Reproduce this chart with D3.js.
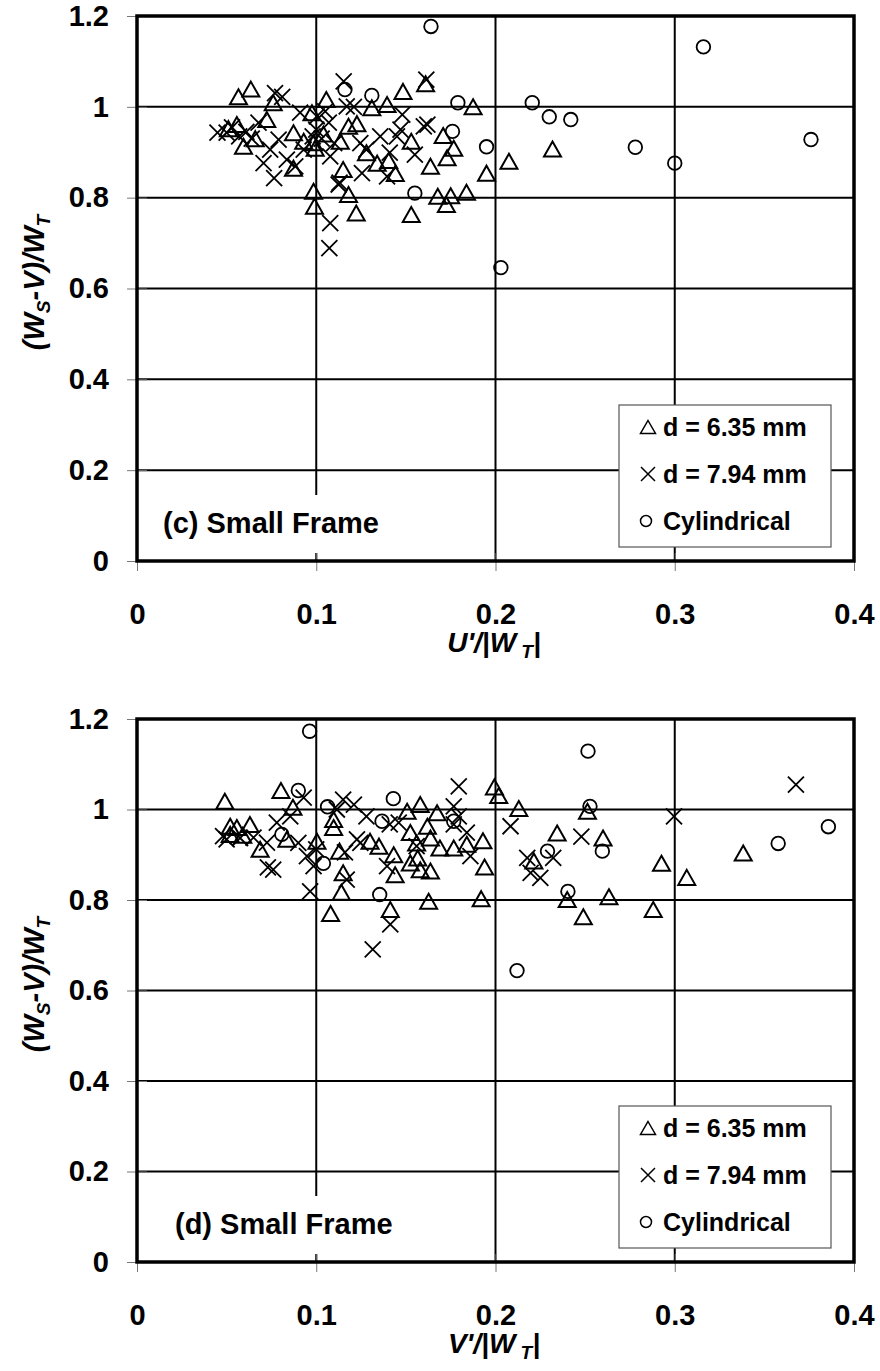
<!DOCTYPE html>
<html>
<head>
<meta charset="utf-8">
<script src="https://cdn.jsdelivr.net/npm/d3@7"></script>
<style>
  body { margin: 0; background: #fff; }
  text { font-family: "Liberation Sans", Arial, sans-serif; font-weight: bold; fill: #000; }
</style>
</head>
<body>
<div id="chart"></div>
<script>
// axis ticks and legend entries
var xTicks = [0, 0.1, 0.2, 0.3, 0.4];
var yTicks = [0, 0.2, 0.4, 0.6, 0.8, 1, 1.2];
var legendLabels = ["d = 6.35 mm", "d = 7.94 mm", "Cylindrical"];

// panel (c): x = U'/|WT|, y = (Ws-V)/WT
var c_tri = [[0.0635,1.039],[0.0566,1.022],[0.076,1.009],[0.1056,1.016],[0.0557,0.961],[0.0594,0.913],[0.0724,0.972],
  [0.0873,0.943],[0.0873,0.865],[0.0985,0.814],[0.099,0.781],[0.1134,0.924],[0.115,0.862],[0.0985,0.921],[0.118,0.807],
  [0.118,0.957],[0.093,0.924],[0.0976,0.987],[0.0994,0.909],[0.051,0.952],[0.066,0.93],[0.104,0.94],
  [0.161,1.051],[0.1484,1.034],[0.1395,1.005],[0.131,0.998],[0.1875,1.0],[0.1227,0.963],[0.1708,0.937],[0.1767,0.909],
  [0.173,0.888],[0.153,0.924],[0.128,0.899],[0.134,0.876],[0.1404,0.882],[0.1637,0.869],[0.1441,0.853],[0.195,0.854],
  [0.2075,0.88],[0.2318,0.907],[0.1223,0.766],[0.153,0.763],[0.1678,0.803],[0.175,0.804],[0.1726,0.785],[0.1838,0.812]];
var c_x = [[0.0449,0.943],[0.05,0.943],[0.053,0.955],[0.057,0.935],[0.061,0.945],[0.064,0.93],[0.0678,0.965],[0.0743,0.906],
  [0.0706,0.876],[0.0765,0.843],[0.0836,0.884],[0.0883,0.869],[0.079,0.928],[0.077,1.03],[0.081,1.022],[0.091,0.987],
  [0.093,0.906],[0.1003,0.979],[0.1,0.95],[0.103,0.93],[0.105,0.99],[0.107,0.965],[0.098,0.935],[0.11,0.92],[0.1078,0.891],
  [0.1125,0.829],[0.1078,0.744],[0.1073,0.689],[0.1153,1.056],[0.117,1.001],[0.121,1.0],[0.1246,0.92],[0.128,0.906],
  [0.1255,0.854],[0.113,0.833],[0.1357,0.935],[0.141,0.899],[0.1395,0.847],[0.145,0.935],[0.147,0.95],[0.148,0.983],
  [0.155,0.895],[0.1614,1.06],[0.162,0.961],[0.16,0.957]];
var c_cyl = [[0.164,1.177],[0.116,1.038],[0.131,1.025],[0.179,1.009],[0.2205,1.009],[0.23,0.978],[0.242,0.972],[0.176,0.946],
  [0.195,0.912],[0.155,0.81],[0.203,0.646],[0.316,1.132],[0.278,0.911],[0.3,0.876],[0.376,0.928]];

// panel (d): x = V'/|WT|
var d_tri = [[0.049,1.018],[0.0803,1.042],[0.087,1.005],[0.052,0.963],[0.0557,0.96],[0.063,0.967],[0.0687,0.912],[0.0836,0.934],
  [0.1004,0.93],[0.1097,0.978],[0.1097,0.96],[0.113,0.908],[0.115,0.86],[0.114,0.817],[0.108,0.77],[0.052,0.945],[0.059,0.943],
  [0.1994,1.05],[0.2018,1.031],[0.213,1.002],[0.158,1.011],[0.1507,0.996],[0.1674,0.993],[0.162,0.963],[0.1525,0.949],
  [0.1637,0.937],[0.156,0.926],[0.169,0.915],[0.1767,0.915],[0.184,0.923],[0.193,0.931],[0.1939,0.873],[0.13,0.93],
  [0.135,0.919],[0.1432,0.9],[0.1525,0.882],[0.158,0.867],[0.1637,0.864],[0.144,0.856],[0.1566,0.893],[0.1413,0.779],
  [0.1627,0.797],[0.192,0.803],[0.2214,0.886],[0.2344,0.948],[0.2513,0.996],[0.26,0.937],[0.2926,0.881],[0.3067,0.85],
  [0.24,0.801],[0.2633,0.807],[0.249,0.763],[0.288,0.779],[0.3382,0.904]];
var d_x = [[0.048,0.941],[0.05,0.934],[0.0575,0.937],[0.065,0.938],[0.0725,0.927],[0.078,0.971],[0.073,0.872],[0.076,0.867],
  [0.0855,0.985],[0.093,1.026],[0.09,0.926],[0.0948,0.897],[0.0985,0.875],[0.0966,0.819],[0.1,0.912],[0.1115,1.0],[0.115,1.022],
  [0.121,1.011],[0.128,0.985],[0.116,0.905],[0.117,0.845],[0.1227,0.934],[0.1246,0.926],[0.1395,0.875],[0.141,0.967],
  [0.146,0.971],[0.156,0.919],[0.1413,0.746],[0.1315,0.691],[0.1767,1.007],[0.1767,0.967],[0.1795,1.051],[0.1795,0.985],
  [0.184,0.949],[0.186,0.897],[0.2084,0.963],[0.2177,0.893],[0.2196,0.86],[0.225,0.849],[0.2322,0.893],[0.2479,0.94],
  [0.2996,0.985],[0.3676,1.055]];
var d_cyl = [[0.0963,1.173],[0.09,1.042],[0.1063,1.006],[0.0808,0.945],[0.104,0.881],[0.143,1.024],[0.1367,0.974],[0.1767,0.974],
  [0.1354,0.812],[0.229,0.908],[0.2516,1.129],[0.2527,1.007],[0.2596,0.908],[0.2404,0.819],[0.3577,0.925],[0.3857,0.962],
  [0.212,0.644]];

var svg = d3.select("#chart").append("svg")
    .attr("width", 880)
    .attr("height", 1371);

var x = d3.scaleLinear().domain([0, 0.4]).range([137, 854]);

// marker shapes
function triPath(w, h) { return "M0," + (-h/2) + "L" + (w/2) + "," + (h/2) + "L" + (-w/2) + "," + (h/2) + "Z"; }
function crossPath(s) { return "M" + (-s) + "," + (-s) + "L" + s + "," + s + "M" + (-s) + "," + s + "L" + s + "," + (-s); }

function drawPanel(top, bottom, series, label, labelX, xName) {
  var y = d3.scaleLinear().domain([0, 1.2]).range([bottom, top]);
  var g = svg.append("g");

  // grid
  g.selectAll(".hg").data(yTicks.slice(1, -1)).enter().append("line")
    .attr("x1", x(0)).attr("x2", x(0.4))
    .attr("y1", function(d) { return y(d); }).attr("y2", function(d) { return y(d); })
    .attr("stroke", "#000").attr("stroke-width", 2);
  g.selectAll(".vg").data(xTicks.slice(1, -1)).enter().append("line")
    .attr("y1", y(0)).attr("y2", y(1.2))
    .attr("x1", function(d) { return x(d); }).attr("x2", function(d) { return x(d); })
    .attr("stroke", "#000").attr("stroke-width", 2);

  // points
  g.selectAll(".tri").data(series[0]).enter().append("path")
    .attr("transform", function(d) { return "translate(" + x(d[0]) + "," + y(d[1]) + ")"; })
    .attr("d", triPath(17, 15))
    .attr("fill", "none").attr("stroke", "#000").attr("stroke-width", 2);
  g.selectAll(".crs").data(series[1]).enter().append("path")
    .attr("transform", function(d) { return "translate(" + x(d[0]) + "," + y(d[1]) + ")"; })
    .attr("d", crossPath(8))
    .attr("fill", "none").attr("stroke", "#000").attr("stroke-width", 1.8);
  g.selectAll(".cyl").data(series[2]).enter().append("circle")
    .attr("cx", function(d) { return x(d[0]); })
    .attr("cy", function(d) { return y(d[1]); })
    .attr("r", 6.8)
    .attr("fill", "none").attr("stroke", "#000").attr("stroke-width", 1.8);

  // panel label with white box
  g.append("rect").attr("x", labelX - 8).attr("y", bottom - 66).attr("width", 252).attr("height", 58).attr("fill", "#fff");
  g.append("text").attr("x", labelX).attr("y", bottom - 28).style("font-size", "29px").text(label);

  // legend
  var lg = g.append("g");
  var ly0 = bottom - 134;
  lg.append("rect").attr("x", 619).attr("y", bottom - 156).attr("width", 212).attr("height", 142)
    .attr("fill", "#fff").attr("stroke", "#555").attr("stroke-width", 1.2);
  legendLabels.forEach(function(t, i) {
    var ly = ly0 + i * 47;
    if (i === 0) lg.append("path").attr("transform", "translate(648," + ly + ")").attr("d", triPath(15, 13))
      .attr("fill", "none").attr("stroke", "#000").attr("stroke-width", 1.5);
    if (i === 1) lg.append("path").attr("transform", "translate(648," + ly + ")").attr("d", crossPath(7))
      .attr("fill", "none").attr("stroke", "#000").attr("stroke-width", 1.5);
    if (i === 2) lg.append("circle").attr("cx", 646).attr("cy", ly).attr("r", 5.5)
      .attr("fill", "none").attr("stroke", "#000").attr("stroke-width", 1.5);
    lg.append("text").attr("x", 663).attr("y", ly).attr("dy", "0.36em").style("font-size", "25px").text(t);
  });

  // axes with crossing ticks
  var ax = g.append("g").attr("transform", "translate(0," + bottom + ")")
    .call(d3.axisBottom(x).tickValues(xTicks).tickFormat(d3.format("")).tickSize(10).tickSizeOuter(0).tickPadding(32));
  ax.selectAll(".tick line").attr("y1", -8).attr("stroke", "#777");
  var ay = g.append("g").attr("transform", "translate(" + x(0) + ",0)")
    .call(d3.axisLeft(y).tickValues(yTicks).tickFormat(d3.format("")).tickSize(10).tickSizeOuter(0).tickPadding(18));
  ay.selectAll(".tick line").attr("x1", 10).attr("stroke", "#777");
  g.selectAll(".domain").remove();
  g.selectAll(".tick text").style("font-size", "29px").style("font-family", "Liberation Sans, Arial, sans-serif").attr("fill", "#000");

  // frame
  g.append("rect").attr("x", x(0)).attr("y", y(1.2)).attr("width", x(0.4) - x(0)).attr("height", y(0) - y(1.2))
    .attr("fill", "none").attr("stroke", "#000").attr("stroke-width", 3.5);

  // x title
  var xt = g.append("text").attr("x", 494).attr("y", bottom + 91).attr("text-anchor", "middle")
    .style("font-size", "28px").style("font-style", "italic");
  xt.append("tspan").text(xName + "/|W");
  xt.append("tspan").attr("dy", 6).style("font-size", "19px").text(" T");
  xt.append("tspan").attr("dy", -6).text("|");

  // y title
  var cy = (top + bottom) / 2 - 6;
  var yt = g.append("text").attr("transform", "translate(44," + cy + ") rotate(-90)").attr("text-anchor", "middle")
    .style("font-size", "29px").style("font-style", "italic");
  yt.append("tspan").text("(W");
  yt.append("tspan").attr("dy", 6).style("font-size", "19px").text("S");
  yt.append("tspan").attr("dy", -6).text("-V)/W");
  yt.append("tspan").attr("dy", 6).style("font-size", "19px").text("T");
}

drawPanel(16, 561, [c_tri, c_x, c_cyl], "(c) Small Frame", 163, "U'");
drawPanel(719, 1262, [d_tri, d_x, d_cyl], "(d) Small Frame", 175, "V'");
</script>
</body>
</html>
